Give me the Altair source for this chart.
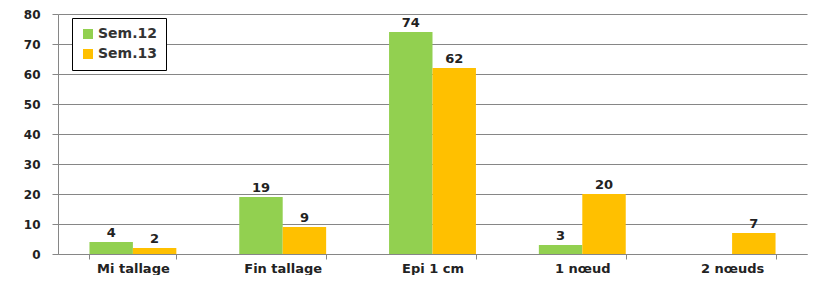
import altair as alt
import pandas as pd

categories = ["Mi tallage", "Fin tallage", "Epi 1 cm", "1 nœud", "2 nœuds"]
sem12 = [4, 19, 74, 3, None]
sem13 = [2, 9, 62, 20, 7]
series = ["Sem.12", "Sem.13"]
colors = ["#92D050", "#FFC000"]
y_ticks = [0, 10, 20, 30, 40, 50, 60, 70, 80]

rows = []
for c, a, b in zip(categories, sem12, sem13):
    rows.append({"cat": c, "serie": series[0], "val": a})
    rows.append({"cat": c, "serie": series[1], "val": b})
df = pd.DataFrame(rows)

FONT = "DejaVu Sans"

x = alt.X("cat:N", sort=categories, title=None,
          scale=alt.Scale(paddingInner=0.42, paddingOuter=0.21),
          axis=alt.Axis(labelAngle=0, labelFont=FONT, labelFontWeight="bold",
                        labelFontSize=13, labelColor="#222222", tickBand="extent",
                        domainColor="#868686", tickColor="#868686", tickSize=5,
                        labelPadding=3, grid=False))
xo = alt.XOffset("serie:N", sort=series, scale=alt.Scale(paddingInner=0, paddingOuter=0))
y = alt.Y("val:Q", title=None,
          scale=alt.Scale(domain=[0, 80], nice=False),
          axis=alt.Axis(values=y_ticks, labelOverlap=False, labelFont=FONT,
                        labelFontWeight="bold", labelFontSize=12, labelColor="#222222",
                        gridColor="#868686", domainColor="#868686", tickColor="#868686",
                        tickSize=6, labelPadding=12, minExtent=50, maxExtent=50))

bars = alt.Chart(df).mark_bar().encode(
    x=x, xOffset=xo, y=y,
    color=alt.Color("serie:N", sort=series,
                    scale=alt.Scale(domain=series, range=colors),
                    legend=alt.Legend(title=None, orient="none", legendX=14, legendY=4,
                                      symbolType="square", symbolSize=100,
                                      symbolStrokeWidth=0,
                                      labelFont=FONT, labelFontSize=14,
                                      labelFontWeight="bold", labelColor="#333333",
                                      rowPadding=6, padding=9, labelOffset=3,
                                      strokeColor="#000000", fillColor="#ffffff")),
)

labels = alt.Chart(df).transform_filter("datum.val != null").mark_text(
    dy=-9, font=FONT, fontSize=13, fontWeight="bold", color="#222222"
).encode(x=x, xOffset=xo, y=y, text="val:Q")

chart = alt.layer(bars, labels).properties(
    width=749, height=240,
    autosize=alt.AutoSizeParams(type="none"),
    padding={"left": 50, "top": 6, "right": 2, "bottom": 21},
).configure_view(stroke=None)

chart.save("out.html", embed_options={"renderer": "svg", "actions": False})
